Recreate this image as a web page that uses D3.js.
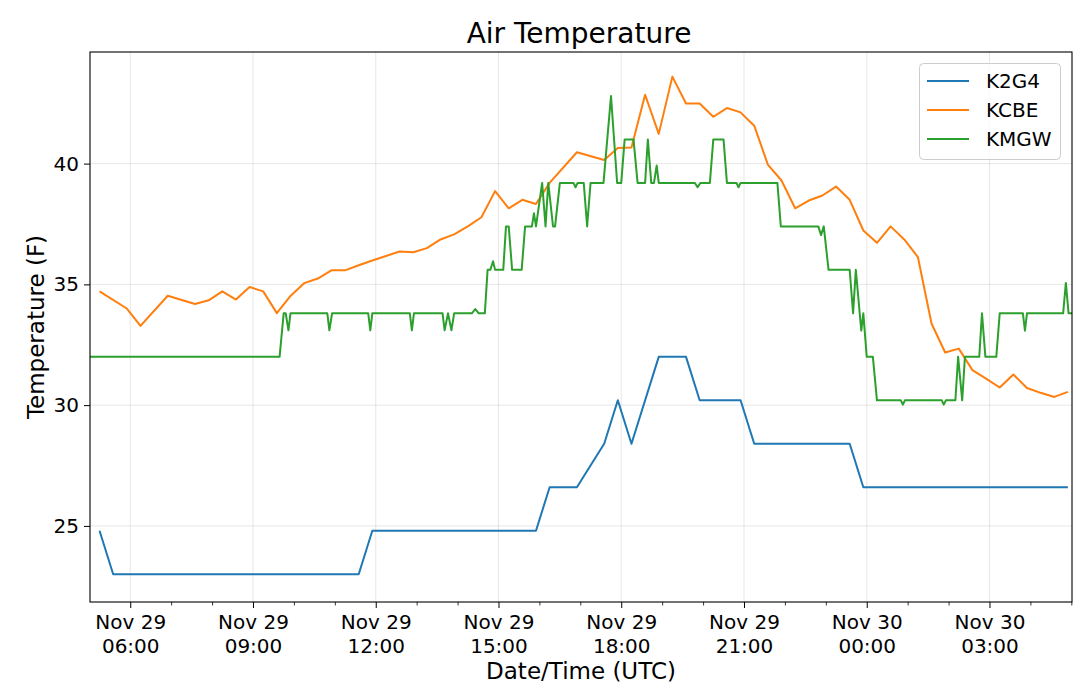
<!DOCTYPE html>
<html><head><meta charset="utf-8">
<script src="https://cdn.jsdelivr.net/npm/d3@7"></script>
<style>body{margin:0;background:#fff} text{font-family:"DejaVu Sans",sans-serif;fill:#000}</style>
</head><body><svg id="chart" width="1080" height="692"></svg>
<script>
const titleText = "Air Temperature";
const xLabel = "Date/Time (UTC)";
const yLabel = "Temperature (F)";
const seriesNames = ["K2G4", "KCBE", "KMGW"];
const seriesColors = ["#1f77b4", "#ff7f0e", "#2ca02c"];

const k2g4Times = ["29 05:15","29 05:35","29 11:35","29 11:55","29 15:55","29 16:15","29 16:55","29 17:35","29 17:55","29 18:15","29 18:55","29 19:35","29 19:55","29 20:55","29 21:15","29 23:35","29 23:55","30 04:55"];
const k2g4Values = [24.8,23.0,23.0,24.8,24.8,26.6,26.6,28.4,30.2,28.4,32.0,32.0,30.2,30.2,28.4,28.4,26.6,26.6];

const kcbeTimes = ["29 05:15","29 05:55","29 06:15","29 06:55","29 07:35","29 07:55","29 08:15","29 08:35","29 08:55","29 09:15","29 09:35","29 09:55","29 10:15","29 10:35","29 10:55","29 11:15","29 11:35","29 11:55","29 12:35","29 12:55","29 13:15","29 13:35","29 13:55","29 14:15","29 14:35","29 14:55","29 15:15","29 15:35","29 15:55","29 16:15","29 16:55","29 17:35","29 17:55","29 18:15","29 18:35","29 18:55","29 19:15","29 19:35","29 19:55","29 20:15","29 20:35","29 20:55","29 21:15","29 21:35","29 21:55","29 22:15","29 22:35","29 22:55","29 23:15","29 23:35","29 23:55","30 00:15","30 00:35","30 00:55","30 01:15","30 01:35","30 01:55","30 02:15","30 02:35","30 02:55","30 03:15","30 03:35","30 03:55","30 04:15","30 04:35","30 04:55"];
const kcbeValues = [34.71,34.0,33.28,34.53,34.19,34.34,34.71,34.37,34.89,34.71,33.81,34.52,35.05,35.24,35.58,35.58,35.79,35.99,36.36,36.33,36.5,36.86,37.07,37.4,37.78,38.86,38.15,38.5,38.33,39.2,40.47,40.15,40.65,40.67,42.85,41.23,43.6,42.49,42.49,41.94,42.3,42.12,41.57,39.96,39.3,38.15,38.47,38.68,39.05,38.5,37.23,36.72,37.4,36.86,36.13,33.38,32.18,32.34,31.45,31.1,30.73,31.27,30.71,30.51,30.34,30.55];

const kmgwTimes = ["29 05:01","29 09:39","29 09:45","29 09:48","29 09:52","29 09:55","29 10:49","29 10:52","29 10:56","29 11:49","29 11:52","29 11:55","29 12:50","29 12:53","29 12:56","29 13:38","29 13:41","29 13:46","29 13:51","29 13:55","29 14:21","29 14:26","29 14:31","29 14:40","29 14:44","29 14:48","29 14:52","29 14:55","29 15:07","29 15:11","29 15:15","29 15:20","29 15:34","29 15:39","29 15:49","29 15:52","29 15:55","29 16:04","29 16:09","29 16:13","29 16:20","29 16:23","29 16:30","29 16:50","29 16:53","29 16:56","29 17:05","29 17:10","29 17:15","29 17:34","29 17:45","29 17:54","29 18:00","29 18:05","29 18:18","29 18:24","29 18:35","29 18:39","29 18:44","29 18:48","29 18:52","29 18:55","29 19:48","29 19:52","29 19:56","29 20:10","29 20:15","29 20:30","29 20:35","29 20:49","29 20:52","29 20:55","29 21:49","29 21:54","29 22:49","29 22:53","29 22:57","29 23:04","29 23:35","29 23:40","29 23:44","29 23:52","29 23:55","30 00:00","30 00:09","30 00:15","30 00:50","30 00:53","30 00:56","30 01:50","30 01:53","30 01:56","30 02:10","30 02:14","30 02:20","30 02:24","30 02:45","30 02:49","30 02:54","30 03:10","30 03:15","30 03:49","30 03:52","30 03:55","30 04:48","30 04:52","30 04:56","30 05:01"];
const kmgwValues = [32.0,32.0,33.8,33.8,33.1,33.8,33.8,33.1,33.8,33.8,33.1,33.8,33.8,33.1,33.8,33.8,33.1,33.8,33.1,33.8,33.8,33.98,33.8,33.8,35.6,35.6,35.96,35.6,35.6,37.4,37.4,35.6,35.6,37.4,37.4,37.94,37.4,39.2,37.4,39.2,37.4,37.4,39.2,39.2,39.02,39.2,39.2,37.4,39.2,39.2,42.8,39.2,39.2,41.0,41.0,39.2,39.2,41.0,39.2,39.2,39.92,39.2,39.2,39.02,39.2,39.2,41.0,41.0,39.2,39.2,39.02,39.2,39.2,37.4,37.4,37.04,37.4,35.6,35.6,33.8,35.6,33.08,33.8,32.0,32.0,30.2,30.2,30.02,30.2,30.2,30.02,30.2,30.2,32.0,30.2,32.0,32.0,33.8,32.0,32.0,33.8,33.8,33.08,33.8,33.8,35.06,33.8,33.8];

const xDomainTimes = ["29 05:01", "30 05:01"];
const yDomainValues = [21.85, 44.62];
const yTickValues = [25, 30, 35, 40];

const parseT = s => d3.utcParse("%Y-%m-%d %H:%M")("2019-11-" + s);
const toPts = (ts, vs) => ts.map((t, i) => ({t: parseT(t), v: vs[i]}));
const series = [
  {name: seriesNames[0], color: seriesColors[0], pts: toPts(k2g4Times, k2g4Values)},
  {name: seriesNames[1], color: seriesColors[1], pts: toPts(kcbeTimes, kcbeValues)},
  {name: seriesNames[2], color: seriesColors[2], pts: toPts(kmgwTimes, kmgwValues)}
];

const W = 1080, H = 692;
const m = {left: 90, right: 1072, top: 52, bottom: 602};
const svg = d3.select("#chart");
svg.append("rect").attr("width", W).attr("height", H).attr("fill", "#fff");

const x = d3.scaleUtc().domain(xDomainTimes.map(parseT)).range([m.left, m.right]);
const y = d3.scaleLinear().domain(yDomainValues).range([m.bottom, m.top]);

const majorTicks = x.ticks(d3.utcHour.every(3));
const minorTicks = x.ticks(d3.utcHour.every(1));

// grid
const grid = svg.append("g");
grid.selectAll(".vg").data(majorTicks).join("line")
  .attr("x1", d => x(d)).attr("x2", d => x(d)).attr("y1", m.top).attr("y2", m.bottom)
  .attr("stroke", "#b0b0b0").attr("stroke-opacity", 0.3).attr("stroke-width", 1);
grid.selectAll(".hg").data(yTickValues).join("line")
  .attr("x1", m.left).attr("x2", m.right).attr("y1", d => y(d)).attr("y2", d => y(d))
  .attr("stroke", "#b0b0b0").attr("stroke-opacity", 0.3).attr("stroke-width", 1);

// lines
svg.append("clipPath").attr("id", "clip").append("rect")
  .attr("x", m.left).attr("y", m.top).attr("width", m.right - m.left).attr("height", m.bottom - m.top);
const line = d3.line().x(d => x(d.t)).y(d => y(d.v));
const lg = svg.append("g").attr("clip-path", "url(#clip)");
series.forEach(s => {
  lg.append("path").datum(s.pts).attr("d", line).attr("fill", "none")
    .attr("stroke", s.color).attr("stroke-width", 2).attr("stroke-linejoin", "round");
});

// axes
const xMinor = svg.append("g").attr("transform", `translate(0,${m.bottom})`)
  .call(d3.axisBottom(x).tickValues(minorTicks.filter(t => t.getUTCHours() % 3 !== 0)).tickSize(3.5).tickFormat(""));
xMinor.select(".domain").remove();
xMinor.selectAll("line").attr("stroke", "#000").attr("stroke-width", 0.8);

const xAxis = svg.append("g").attr("transform", `translate(0,${m.bottom})`)
  .call(d3.axisBottom(x).tickValues(majorTicks).tickSize(6).tickFormat(""));
xAxis.select(".domain").remove();
xAxis.selectAll("line").attr("stroke", "#000").attr("stroke-width", 1);
const fmtD = d3.utcFormat("%b %d"), fmtH = d3.utcFormat("%H:%M");
xAxis.selectAll(".tick").each(function(d) {
  const t = d3.select(this).append("text").attr("text-anchor", "middle").attr("font-size", 20);
  t.append("tspan").attr("x", 0).attr("y", 27).text(fmtD(d));
  t.append("tspan").attr("x", 0).attr("y", 51).text(fmtH(d));
});

const yAxis = svg.append("g").attr("transform", `translate(${m.left},0)`)
  .call(d3.axisLeft(y).tickValues(yTickValues).tickSize(6).tickPadding(5).tickFormat(d3.format("d")));
yAxis.select(".domain").remove();
yAxis.selectAll("line").attr("stroke", "#000").attr("stroke-width", 1);
yAxis.selectAll("text").attr("font-size", 20).attr("font-family", "DejaVu Sans").attr("fill", "#000");

// frame
svg.append("rect").attr("x", m.left).attr("y", m.top).attr("width", m.right - m.left).attr("height", m.bottom - m.top)
  .attr("fill", "none").attr("stroke", "#000").attr("stroke-width", 1.1);

// labels
svg.append("text").attr("x", 579).attr("y", 43).attr("text-anchor", "middle")
  .attr("font-size", 28).text(titleText);
svg.append("text").attr("x", (m.left + m.right) / 2).attr("y", 679).attr("text-anchor", "middle")
  .attr("font-size", 23).text(xLabel);
svg.append("text").attr("transform", `translate(44,${(m.top + m.bottom) / 2}) rotate(-90)`)
  .attr("text-anchor", "middle").attr("font-size", 23).text(yLabel);

// legend
const leg = svg.append("g");
leg.append("rect").attr("x", 919.5).attr("y", 63.5).attr("width", 141).attr("height", 96).attr("rx", 4)
  .attr("fill", "#fff").attr("fill-opacity", 0.8).attr("stroke", "#cccccc").attr("stroke-width", 1);
series.forEach((s, i) => {
  const cy = 81 + i * 29;
  leg.append("line").attr("x1", 927).attr("x2", 969).attr("y1", cy).attr("y2", cy)
    .attr("stroke", s.color).attr("stroke-width", 2);
  leg.append("text").attr("x", 986).attr("y", cy + 7).attr("font-size", 20).text(s.name);
});
</script></body></html>
